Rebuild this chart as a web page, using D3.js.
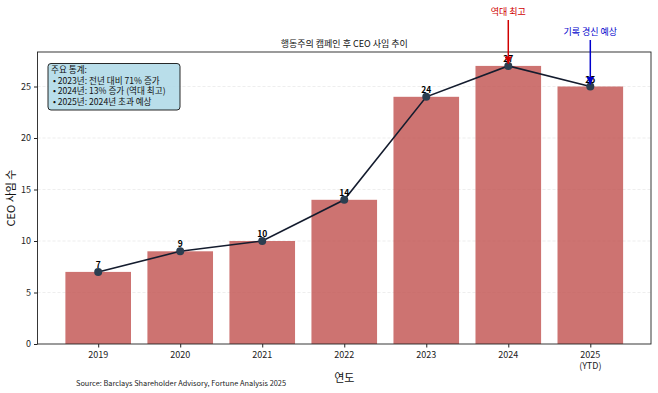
<!DOCTYPE html>
<html><head><meta charset="utf-8">
<script src="https://cdn.jsdelivr.net/npm/d3@7/dist/d3.min.js"></script>
<style>body{margin:0;background:#fff;} svg{display:block;font-family:"Noto Sans CJK KR","Noto Sans",sans-serif;}</style>
</head><body>
<script>
const years = ["2019","2020","2021","2022","2023","2024","2025"];
const yearLabels = [["2019"],["2020"],["2021"],["2022"],["2023"],["2024"],["2025","(YTD)"]];
const resignations = [7, 9, 10, 14, 24, 27, 25];
const yTicks = [0, 5, 10, 15, 20, 25];
const statsLines = ["주요 통계:", " • 2023년: 전년 대비 71% 증가", " • 2024년: 13% 증가 (역대 최고)", " • 2025년: 2024년 초과 예상"];
const titleText = "행동주의 캠페인 후 CEO 사임 추이";
const sourceText = "Source: Barclays Shareholder Advisory, Fortune Analysis 2025";

const W = 658, H = 393;
const L = 37.5, R = 651, T = 52, B = 344;
const svg = d3.select("body").append("svg").attr("width", W).attr("height", H);

const x = d3.scaleLinear().domain([-0.74, 6.74]).range([L, R]);
const y = d3.scaleLinear().domain([0, 28.35]).range([B, T]);

// grid
svg.append("g").selectAll("line").data(yTicks.filter(d => d > 0)).join("line")
  .attr("x1", L).attr("x2", R).attr("y1", d => y(d)).attr("y2", d => y(d))
  .attr("stroke", "#ddd").attr("stroke-width", 0.6).attr("stroke-dasharray", "3,2").attr("opacity", 0.8);

// bars
svg.append("g").selectAll("rect").data(resignations).join("rect")
  .attr("x", (d, i) => x(i - 0.4)).attr("width", x(0.4) - x(-0.4))
  .attr("y", d => y(d)).attr("height", d => y(0) - y(d))
  .attr("fill", "#c0504d").attr("fill-opacity", 0.8);

// line
const line = d3.line().x((d, i) => x(i)).y(d => y(d));
svg.append("path").datum(resignations).attr("d", line)
  .attr("fill", "none").attr("stroke", "#141c2e").attr("stroke-width", 1.6);
svg.append("g").selectAll("circle").data(resignations).join("circle")
  .attr("cx", (d, i) => x(i)).attr("cy", d => y(d)).attr("r", 4)
  .attr("fill", "#2c3e50");

// value labels
svg.append("g").selectAll("text").data(resignations).join("text")
  .attr("x", (d, i) => x(i)).attr("y", d => y(d) - 4)
  .attr("text-anchor", "middle").attr("font-size", 8.5).attr("font-weight", "bold")
  .attr("fill", "#000").text(d => d);

// frame
svg.append("rect").attr("x", L).attr("y", T).attr("width", R - L).attr("height", B - T)
  .attr("fill", "none").attr("stroke", "#222").attr("stroke-width", 0.9);

// axes
const yAxis = svg.append("g").attr("transform", `translate(${L},0)`)
  .call(d3.axisLeft(y).tickValues(yTicks).tickSize(3.5).tickPadding(3));
yAxis.select(".domain").remove();
yAxis.selectAll("text").attr("font-size", 9).attr("fill", "#222").attr("font-family", "Noto Sans CJK KR");
yAxis.selectAll("line").attr("stroke", "#222");

const xAxis = svg.append("g").attr("transform", `translate(0,${B})`)
  .call(d3.axisBottom(x).tickValues(d3.range(years.length)).tickFormat("").tickSize(3.5));
xAxis.select(".domain").remove();
xAxis.selectAll("line").attr("stroke", "#222");
const xl = svg.append("g").selectAll("text").data(yearLabels).join("text")
  .attr("x", (d, i) => x(i)).attr("y", B + 14)
  .attr("text-anchor", "middle").attr("font-size", 9).attr("fill", "#222");
xl.selectAll("tspan").data(d => d).join("tspan")
  .attr("x", function () { return this.parentNode.getAttribute("x"); })
  .attr("dy", (d, j) => j === 0 ? 0 : 11).text(d => d);

// titles
svg.append("text").attr("x", (L + R) / 2).attr("y", 47).attr("text-anchor", "middle")
  .attr("font-size", 9).attr("fill", "#111").text(titleText);
svg.append("text").attr("x", (L + R) / 2).attr("y", 382).attr("text-anchor", "middle")
  .attr("font-size", 11).attr("fill", "#111").text("연도");
svg.append("text").attr("transform", `translate(15,${(T + B) / 2}) rotate(-90)`)
  .attr("text-anchor", "middle").attr("font-size", 11).attr("fill", "#111").text("CEO 사임 수");
svg.append("text").attr("x", 76).attr("y", 386).attr("font-size", 7.2).attr("fill", "#222")
  .attr("textLength", 210).attr("lengthAdjust", "spacingAndGlyphs").text(sourceText);

// stats box
const bx = 48, by = 63.5;
svg.append("rect").attr("x", bx).attr("y", by).attr("width", 132).attr("height", 46.5)
  .attr("rx", 3).attr("fill", "#add8e6").attr("fill-opacity", 0.85)
  .attr("stroke", "#111").attr("stroke-width", 0.9);
svg.append("g").selectAll("text").data(statsLines).join("text")
  .attr("x", bx + 3).attr("y", (d, i) => by + 9.5 + i * 10.6)
  .attr("font-size", 8.6).attr("fill", "#111").attr("xml:space", "preserve").style("white-space", "pre").text(d => d);

// annotations
const defs = svg.append("defs");
[["arRed", "#d00000"], ["arBlue", "#0000cc"]].forEach(([id, c]) => {
  defs.append("marker").attr("id", id).attr("viewBox", "0 0 10 10").attr("refX", 10).attr("refY", 5)
    .attr("markerWidth", 5).attr("markerHeight", 5).attr("orient", "auto")
    .append("path").attr("d", "M0,0L10,5L0,10z").attr("fill", c);
});
svg.append("line").attr("x1", x(5)).attr("x2", x(5)).attr("y1", 20).attr("y2", y(27) - 2)
  .attr("stroke", "#d00000").attr("stroke-width", 1.5).attr("marker-end", "url(#arRed)");
svg.append("text").attr("x", x(5)).attr("y", 15).attr("text-anchor", "middle")
  .attr("font-size", 9).attr("fill", "#d00000").text("역대 최고");
svg.append("line").attr("x1", x(6)).attr("x2", x(6)).attr("y1", 40).attr("y2", y(25) - 2)
  .attr("stroke", "#0000cc").attr("stroke-width", 1.5).attr("marker-end", "url(#arBlue)");
svg.append("text").attr("x", x(6)).attr("y", 35).attr("text-anchor", "middle")
  .attr("font-size", 9).attr("fill", "#0000cc").text("기록 경신 예상");
</script>
</body></html>
